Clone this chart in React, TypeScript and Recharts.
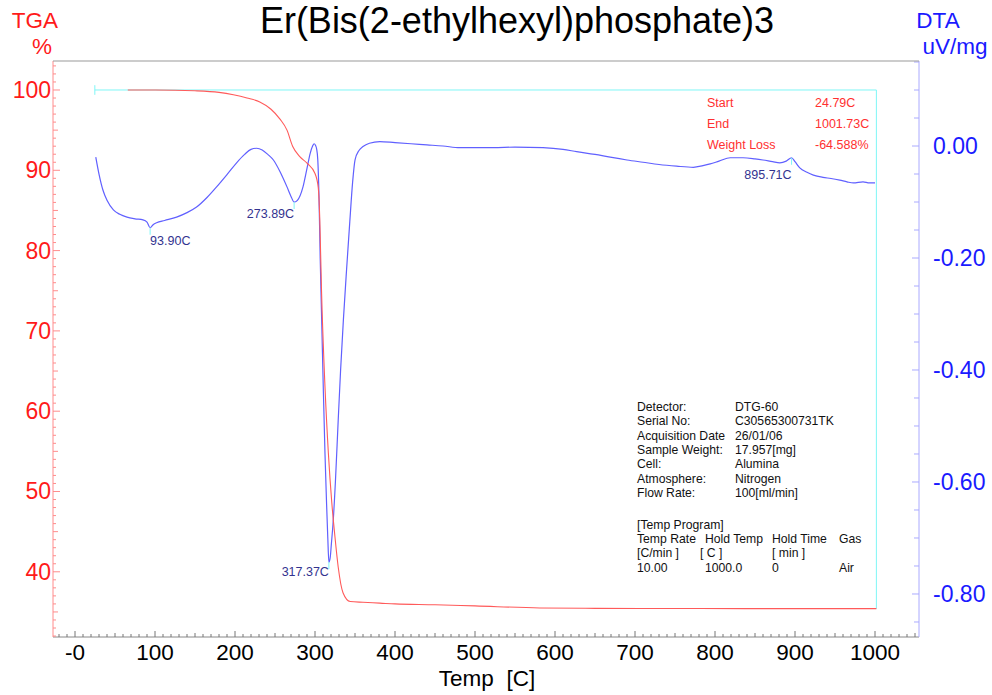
import React from "react";
import { ComposedChart, Line, XAxis, YAxis, ReferenceLine, ReferenceDot } from "recharts";

const W = 992;
const H = 695;
const LEFT_AXIS_W = 53;
const RIGHT_AXIS_W = 73;
const BOTTOM_AXIS_H = 58;
const MARGIN = { top: 61, right: 0, bottom: 0, left: 0 };
const PLOT_LEFT = LEFT_AXIS_W;
const PLOT_RIGHT = W - RIGHT_AXIS_W;
const PLOT_TOP = MARGIN.top;
const PLOT_BOTTOM = H - BOTTOM_AXIS_H;
const FONT = "'Liberation Sans', Arial, Helvetica, sans-serif";

// TGA weight curve (%)
const tgaTemp = [
  66, 100, 150, 180, 198, 215, 231, 245, 256, 265, 272, 281, 290, 300, 304, 306, 308,
  312.5, 316.7, 321, 325, 329, 335, 344, 360, 381, 400, 450, 500, 581, 650, 781, 900, 1001.73,
];
const tgaWeight = [
  100, 100, 99.9, 99.7, 99.4, 99.0, 98.5, 97.6, 96.4, 95.0, 93.0, 91.7, 90.9, 89.6, 87.9, 83.8, 75.5,
  63.0, 54.8, 48.6, 44.3, 40.6, 37.4, 36.3, 36.2, 36.1, 36.0, 35.9, 35.75, 35.5, 35.45, 35.42, 35.41, 35.412,
];

// DTA signal (uV/mg)
const dtaTemp = [
  26, 30, 35, 40, 48, 56, 65, 75, 85, 90, 93.9, 98, 102, 112, 127, 140, 152, 165, 177, 190,
  202, 212, 220, 227, 234, 241, 248, 256, 265, 270, 273.89, 278, 285, 290, 294, 297, 299, 301,
  302, 303.5, 305, 306.5, 308.5, 310.5, 312.5, 314.5, 316, 317.37, 319, 320.5, 322.5, 325.5,
  329, 332, 335.5, 339.5, 343.5, 347, 350, 355, 360, 368, 381, 400, 420, 440, 460, 481, 523,
  550, 585, 610, 627, 650, 669, 690, 710, 730, 752, 773, 785, 794, 805, 819, 835, 850, 860,
  872, 881, 889, 895.71, 900, 906, 915, 923, 935, 945, 956, 965, 973, 985, 993, 1000,
];
const dtaSignal = [
  -0.02, -0.05, -0.079, -0.097, -0.114, -0.122, -0.127, -0.13, -0.132, -0.136, -0.146, -0.14,
  -0.137, -0.133, -0.127, -0.119, -0.109, -0.092, -0.073, -0.051, -0.03, -0.015, -0.006, -0.004,
  -0.007, -0.015, -0.025, -0.045, -0.073, -0.09, -0.1, -0.097, -0.073, -0.04, -0.013, 0.0,
  0.004, 0.0, -0.005, -0.025, -0.09, -0.2, -0.32, -0.44, -0.55, -0.64, -0.7, -0.743, -0.735,
  -0.71, -0.675, -0.6, -0.49, -0.4, -0.31, -0.22, -0.135, -0.065, -0.025, -0.008, -0.001, 0.005,
  0.008, 0.006, 0.004, 0.002, 0.0, -0.003, -0.003, -0.002, -0.003, -0.006, -0.01, -0.015, -0.02,
  -0.025, -0.029, -0.033, -0.036, -0.038, -0.035, -0.032, -0.027, -0.021, -0.021, -0.023, -0.025,
  -0.028, -0.03, -0.027, -0.021, -0.028, -0.039, -0.047, -0.052, -0.056, -0.058, -0.061, -0.064,
  -0.066, -0.064, -0.066, -0.066,
];

// peak annotations on the DTA curve
const peakTemps = [93.9, 273.89, 317.37, 895.71];
const peakSignals = [-0.146, -0.1, -0.743, -0.021];
const peakAnchors = ["start", "end", "end", "end"];
const peakDrops = [17, 16, 14, 21];

// analysis range
const rangeStart = 24.79;
const rangeEnd = 1001.73;
const weightLoss = -64.588;

// axis labels
const tempLabels = [0, 100, 200, 300, 400, 500, 600, 700, 800, 900, 1000];
const tgaLabels = [40, 50, 60, 70, 80, 90, 100];
const dtaLabels = [0, -0.2, -0.4, -0.6, -0.8];

const TEMP_DOMAIN = [-27.5, 1055];
const TGA_DOMAIN = [31.88, 103.61];
const DTA_DOMAIN = [-0.8768, 0.1518];

const tempTicks: number[] = [];
for (let t = -20; t <= 1050; t += 10) tempTicks.push(t);
const tgaTicks: number[] = [];
for (let v = 32; v <= 103; v += 1) tgaTicks.push(v);
const dtaTicks: number[] = [];
for (let k = -85; k <= 15; k += 5) dtaTicks.push(k / 100);

const tgaRows = tgaTemp.map((t, i) => ({ temp: t, weight: tgaWeight[i] }));
const dtaRows = dtaTemp.map((t, i) => ({ temp: t, signal: dtaSignal[i] }));

const infoRows = [
  ["Detector:", "DTG-60"],
  ["Serial No:", "C30565300731TK"],
  ["Acquisition Date", "26/01/06"],
  ["Sample Weight:", "17.957[mg]"],
  ["Cell:", "Alumina"],
  ["Atmosphere:", "Nitrogen"],
  ["Flow Rate:", "100[ml/min]"],
];
const programRows = [
  ["Temp Rate", "Hold Temp", "Hold Time", "Gas"],
  ["[C/min ]", "  [  C  ]", "[  min  ]", ""],
  ["10.00", "1000.0", "0", "Air"],
];

const CYAN = "#7ff6f6";
const RED = "#ff1a1a";
const BLUE = "#1a1aff";

function TempTick(props: any) {
  const { x, payload } = props;
  const v = Math.round(payload.value);
  const len = v % 100 === 0 ? 6 : v % 50 === 0 ? 4 : 3;
  return (
    <g>
      <line x1={x} y1={PLOT_BOTTOM} x2={x} y2={PLOT_BOTTOM - len} stroke="#777" />
      {tempLabels.includes(v) && (
        <text x={x} y={660} textAnchor="middle" fontSize={22.5} fontFamily={FONT} fill="#000">
          {v === 0 ? "-0" : v}
        </text>
      )}
    </g>
  );
}

function TgaTick(props: any) {
  const { y, payload } = props;
  const v = Math.round(payload.value);
  const len = v % 10 === 0 ? 7 : v % 5 === 0 ? 5 : 3;
  return (
    <g>
      <line x1={PLOT_LEFT} y1={y} x2={PLOT_LEFT + len} y2={y} stroke="#ff8c8c" />
      {tgaLabels.includes(v) && (
        <text x={51} y={y + 8} textAnchor="end" fontSize={23} fontFamily={FONT} fill={RED}>
          {v}
        </text>
      )}
    </g>
  );
}

function DtaTick(props: any) {
  const { y, payload } = props;
  const k = Math.round(payload.value * 100);
  const len = k % 20 === 0 ? 7 : 5;
  const isLabel = dtaLabels.some((d) => Math.round(d * 100) === k);
  return (
    <g>
      <line x1={PLOT_RIGHT} y1={y} x2={PLOT_RIGHT - len} y2={y} stroke="#aaaaff" />
      {isLabel && (
        <text x={933} y={y + 8} textAnchor="start" fontSize={23} fontFamily={FONT} fill={BLUE}>
          {(k / 100).toFixed(2)}
        </text>
      )}
    </g>
  );
}

function PeakMark(props: any, i: number) {
  const { cx, cy } = props;
  return (
    <g>
      <line x1={cx} y1={cy} x2={cx} y2={cy + 7} stroke={CYAN} />
      <text
        x={cx}
        y={cy + peakDrops[i]}
        textAnchor={peakAnchors[i]}
        fontSize={12.5}
        fontFamily={FONT}
        fill="#33338f"
      >
        {peakTemps[i].toFixed(2)}C
      </text>
    </g>
  );
}

function Overlay() {
  const txt = { fontFamily: FONT };
  return (
    <svg
      width={W}
      height={H}
      style={{ position: "absolute", left: 0, top: 0, pointerEvents: "none" }}
    >
      <line x1={PLOT_LEFT} y1={PLOT_TOP} x2={PLOT_RIGHT} y2={PLOT_TOP} stroke="#999" />
      <text x={517} y={33} textAnchor="middle" fontSize={36} fill="#000" style={txt}>
        Er(Bis(2-ethylhexyl)phosphate)3
      </text>
      <text x={35} y={28} textAnchor="middle" fontSize={22.5} fill={RED} style={txt}>TGA</text>
      <text x={42} y={54} textAnchor="middle" fontSize={22.5} fill={RED} style={txt}>%</text>
      <text x={938} y={28} textAnchor="middle" fontSize={22.5} fill={BLUE} style={txt}>DTA</text>
      <text x={955} y={54} textAnchor="middle" fontSize={22.5} fill={BLUE} style={txt}>uV/mg</text>
      <text x={487} y={686} textAnchor="middle" fontSize={22.5} fill="#000" style={{ ...txt, whiteSpace: "pre" }}>
        {"Temp  [C]"}
      </text>

      {[
        ["Start", `${rangeStart.toFixed(2)}C`],
        ["End", `${rangeEnd.toFixed(2)}C`],
        ["Weight Loss", `${weightLoss.toFixed(3)}%`],
      ].map(([k, v], i) => (
        <g key={k} fontSize={12.5} fill="#ff3030" style={txt}>
          <text x={707} y={107 + i * 20.8}>{k}</text>
          <text x={815} y={107 + i * 20.8}>{v}</text>
        </g>
      ))}

      {infoRows.map(([k, v], i) => (
        <g key={k} fontSize={12.2} fill="#111" style={txt}>
          <text x={637} y={411 + i * 14.3}>{k}</text>
          <text x={735} y={411 + i * 14.3}>{v}</text>
        </g>
      ))}
      <text x={637} y={529} fontSize={12.2} fill="#111" style={txt}>[Temp Program]</text>
      {programRows.map((row, i) => (
        <g key={i} fontSize={12.2} fill="#111" style={{ ...txt, whiteSpace: "pre" }}>
          <text x={637} y={543 + i * 14.3}>{row[0]}</text>
          <text x={i === 1 ? 700 : 705} y={543 + i * 14.3}>{row[1]}</text>
          <text x={772} y={543 + i * 14.3}>{row[2]}</text>
          <text x={839} y={543 + i * 14.3}>{row[3]}</text>
        </g>
      ))}
    </svg>
  );
}

export default function App() {
  return (
    <div style={{ position: "absolute", left: 0, top: 0, width: W, height: H, background: "#fff" }}>
      <ComposedChart width={W} height={H} margin={MARGIN}>
        <XAxis
          type="number"
          dataKey="temp"
          domain={TEMP_DOMAIN}
          allowDataOverflow
          ticks={tempTicks}
          interval={0}
          height={BOTTOM_AXIS_H}
          tickLine={false}
          axisLine={{ stroke: "#888" }}
          tick={(p: any) => <TempTick {...p} />}
        />
        <YAxis
          yAxisId="tga"
          orientation="left"
          type="number"
          domain={TGA_DOMAIN}
          allowDataOverflow
          ticks={tgaTicks}
          interval={0}
          width={LEFT_AXIS_W}
          tickLine={false}
          axisLine={{ stroke: "#ff8c8c" }}
          tick={(p: any) => <TgaTick {...p} />}
        />
        <YAxis
          yAxisId="dta"
          orientation="right"
          type="number"
          domain={DTA_DOMAIN}
          allowDataOverflow
          ticks={dtaTicks}
          interval={0}
          width={RIGHT_AXIS_W}
          tickLine={false}
          axisLine={{ stroke: "#aaaaff" }}
          tick={(p: any) => <DtaTick {...p} />}
        />

        <ReferenceLine
          yAxisId="tga"
          segment={[{ x: rangeStart, y: 100 }, { x: rangeEnd, y: 100 }]}
          stroke={CYAN}
        />
        <ReferenceLine
          yAxisId="tga"
          segment={[{ x: rangeEnd, y: 100 }, { x: rangeEnd, y: 100 + weightLoss }]}
          stroke={CYAN}
        />
        <ReferenceLine
          yAxisId="tga"
          segment={[{ x: rangeStart, y: 100.6 }, { x: rangeStart, y: 99.4 }]}
          stroke={CYAN}
        />

        <Line
          yAxisId="dta"
          data={dtaRows}
          dataKey="signal"
          type="monotone"
          stroke="#6060ff"
          strokeWidth={1.2}
          dot={false}
          isAnimationActive={false}
        />
        <Line
          yAxisId="tga"
          data={tgaRows}
          dataKey="weight"
          type="monotone"
          stroke="#ff5a5a"
          strokeWidth={1.1}
          dot={false}
          isAnimationActive={false}
        />

        {peakTemps.map((t, i) => (
          <ReferenceDot
            key={t}
            yAxisId="dta"
            x={t}
            y={peakSignals[i]}
            r={0}
            shape={(p: any) => PeakMark(p, i)}
          />
        ))}
      </ComposedChart>
      <Overlay />
    </div>
  );
}
